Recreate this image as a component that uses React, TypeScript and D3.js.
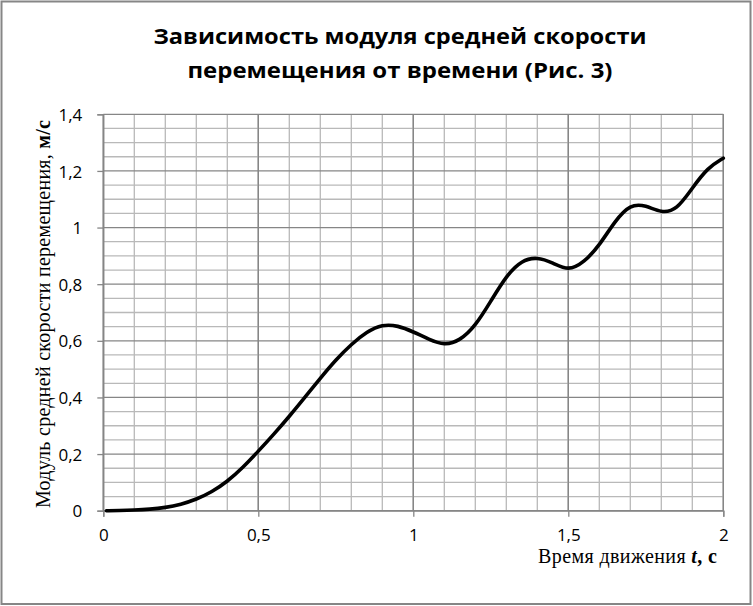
import React, { useEffect, useRef } from "react";
import * as d3 from "d3";

const times = [0.01, 0.05, 0.1, 0.15, 0.2, 0.25, 0.3, 0.35, 0.4, 0.45, 0.5, 0.55, 0.6, 0.65, 0.7, 0.75, 0.8, 0.85, 0.9, 0.95, 1.0, 1.05, 1.1, 1.15, 1.2, 1.25, 1.3, 1.35, 1.4, 1.45, 1.5, 1.55, 1.6, 1.65, 1.7, 1.75, 1.8, 1.85, 1.9, 1.95, 2.0];
const speeds = [0.0, 0.0005, 0.002, 0.005, 0.011, 0.022, 0.04, 0.066, 0.103, 0.152, 0.21, 0.27, 0.333, 0.4, 0.468, 0.533, 0.588, 0.632, 0.658, 0.654, 0.632, 0.605, 0.584, 0.6, 0.652, 0.74, 0.83, 0.885, 0.896, 0.876, 0.847, 0.876, 0.936, 1.023, 1.083, 1.079, 1.051, 1.062, 1.14, 1.212, 1.245];
const xTicks = [0, 0.5, 1, 1.5, 2];
const yTicks = [0, 0.2, 0.4, 0.6, 0.8, 1, 1.2, 1.4];
const titleLines = ["Зависимость модуля средней скорости", "перемещения от времени (Рис. 3)"];

const W = 753;
const H = 606;

export default function App() {
  const ref = useRef<SVGSVGElement | null>(null);

  useEffect(() => {
    const svg = d3.select(ref.current);
    svg.selectAll("*").remove();

    const x = d3.scaleLinear().domain([0, 2]).range([103.3, 723.3]);
    const y = d3.scaleLinear().domain([0, 1.4]).range([510.7, 114.3]);
    const fmt = (d: any) => String(d).replace(".", ",");

    // background + border
    svg.append("rect").attr("x", 0).attr("y", 0).attr("width", W).attr("height", H).attr("fill", "#fff");
    svg.append("rect").attr("x", 1.5).attr("y", 1.5).attr("width", W - 4).attr("height", H - 3.5)
      .attr("fill", "none").attr("stroke", "#868686").attr("stroke-width", 2);

    // grid
    const g = svg.append("g");
    const xMinor = d3.range(0, 21).map((i) => i / 10);
    const yMinor = d3.range(0, 29).map((i) => i * 0.05);
    xMinor.forEach((v, i) => {
      g.append("line").attr("x1", x(v)).attr("x2", x(v)).attr("y1", y(0)).attr("y2", y(1.4))
        .attr("stroke", i % 5 === 0 ? "#868686" : "#b9b9b9").attr("stroke-width", 1.3);
    });
    yMinor.forEach((v, i) => {
      g.append("line").attr("x1", x(0)).attr("x2", x(2)).attr("y1", y(v)).attr("y2", y(v))
        .attr("stroke", i % 4 === 0 ? "#868686" : "#b9b9b9").attr("stroke-width", 1.3);
    });
    xMinor.forEach((v, i) => {
      if (i % 5 === 0)
        g.append("line").attr("x1", x(v)).attr("x2", x(v)).attr("y1", y(0)).attr("y2", y(1.4))
          .attr("stroke", "#868686").attr("stroke-width", 1.3);
    });

    // axes
    const xAxis = d3.axisBottom(x).tickValues(xTicks).tickFormat(fmt).tickSize(6).tickPadding(12);
    const yAxis = d3.axisLeft(y).tickValues(yTicks).tickFormat(fmt).tickSize(6).tickPadding(15);
    const gx = svg.append("g").attr("transform", `translate(0,${y(0)})`).call(xAxis as any);
    const gy = svg.append("g").attr("transform", `translate(${x(0)},0)`).call(yAxis as any);
    [gx, gy].forEach((ax) => {
      ax.select(".domain").attr("stroke", "#868686").attr("stroke-width", 1.3);
      ax.selectAll(".tick line").attr("stroke", "#868686").attr("stroke-width", 1.3);
      ax.selectAll(".tick text").attr("fill", "#000").attr("font-family", "'Open Sans', sans-serif").attr("font-size", 17);
    });
    gy.selectAll(".tick text").attr("dy", "0.36em");

    // curve
    const pts: [number, number][] = times.map((t, i) => [t, speeds[i]]);
    const line = d3.line<[number, number]>().x((d) => x(d[0])).y((d) => y(d[1])).curve(d3.curveBasis);
    svg.append("path").attr("d", line(pts) as string).attr("fill", "none").attr("stroke", "#000")
      .attr("stroke-width", 3.6).attr("stroke-linecap", "round").attr("stroke-linejoin", "round");

    // title
    const tl = [
      { txt: titleLines[0], yy: 44, len: 493 },
      { txt: titleLines[1], yy: 78, len: 425 },
    ];
    tl.forEach((l) => {
      svg.append("text").attr("x", 400).attr("y", l.yy).attr("text-anchor", "middle")
        .attr("font-family", "'Open Sans', sans-serif").attr("font-weight", "bold").attr("font-size", 22)
        .attr("textLength", l.len).attr("lengthAdjust", "spacingAndGlyphs").attr("fill", "#000").text(l.txt);
    });

    // x label
    const xl = svg.append("text").attr("x", 538).attr("y", 563)
      .attr("textLength", 179).attr("lengthAdjust", "spacing")
      .attr("font-family", "'Liberation Serif', 'Times New Roman', serif").attr("font-size", 20).attr("fill", "#000");
    xl.append("tspan").text("Время движения ");
    xl.append("tspan").attr("font-weight", "bold").attr("font-style", "italic").text("t");
    xl.append("tspan").attr("font-weight", "bold").text(", с");

    // y label
    const yl = svg.append("text").attr("transform", `translate(50,508) rotate(-90)`)
      .attr("textLength", 388).attr("lengthAdjust", "spacing")
      .attr("font-family", "'Liberation Serif', 'Times New Roman', serif").attr("font-size", 20).attr("fill", "#000");
    yl.append("tspan").text("Модуль средней скорости перемещения, ");
    yl.append("tspan").attr("font-weight", "bold").text("м/с");
  }, []);

  return (
    <div style={{ position: "absolute", left: 0, top: 0 }}>
      <svg ref={ref} width={W} height={H} style={{ display: "block" }} />
    </div>
  );
}
